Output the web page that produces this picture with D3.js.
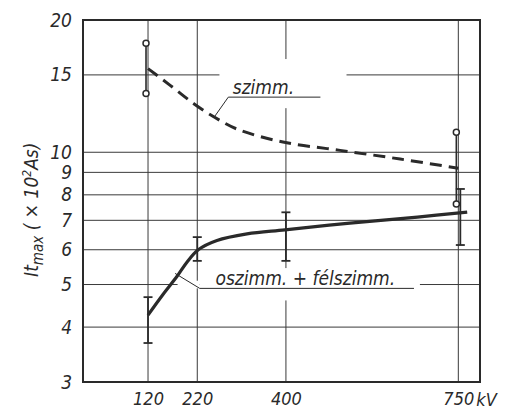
<!DOCTYPE html>
<html>
<head>
<meta charset="utf-8">
<script src="https://cdn.jsdelivr.net/npm/d3@7/dist/d3.min.js"></script>
<style>
  body { margin: 0; background: #fff; }
  text { font-family: "Liberation Sans Narrow", "DejaVu Sans Condensed", "Liberation Sans", sans-serif; font-style: italic; fill: #2a2a2a; }
</style>
</head>
<body>
<svg id="chart"></svg>
<script>
// voltage levels (kV) and y ticks
var voltages = [120, 220, 400, 750];
var yTicks = [3, 4, 5, 6, 7, 8, 9, 10, 15, 20];

// "szimm." curve (dashed)
var szimmKV = [120, 165, 213, 256, 300, 394, 510, 632, 750];
var szimmVal = [15.5, 14.2, 12.9, 12.0, 11.3, 10.55, 10.1, 9.65, 9.2];
// szimm. scatter ranges (open circles)
var szimmBarKV = [120, 750];
var szimmBarLow = [13.6, 7.63];
var szimmBarHigh = [17.7, 11.1];

// "oszimm. + félszimm." curve (solid)
var aszKV = [120, 150, 179, 199, 222, 260, 321, 398, 530, 667, 768];
var aszVal = [4.26, 4.74, 5.22, 5.62, 6.0, 6.3, 6.52, 6.66, 6.9, 7.12, 7.31];
// its ranges (I-bars)
var aszBarKV = [120, 220, 400, 750];
var aszBarLow = [3.68, 5.66, 5.66, 6.15];
var aszBarHigh = [4.68, 6.41, 7.3, 8.25];

var dimensions = {
    width: 510,
    height: 410,
    margins: { top: 20, right: 30, bottom: 28, left: 83 }
};
var ink = "#2a2a2a";

var svg = d3.select("#chart")
    .attr("width", dimensions.width)
    .attr("height", dimensions.height);

var xScale = d3.scaleLinear()
    .domain([-12, 794])
    .range([dimensions.margins.left, dimensions.width - dimensions.margins.right]);

var yScale = d3.scaleLog()
    .domain([3, 20])
    .range([dimensions.height - dimensions.margins.bottom, dimensions.margins.top]);

var x0 = xScale.range()[0], x1 = xScale.range()[1];
var yb = yScale.range()[0], yt = yScale.range()[1];

// grid
var grid = svg.append("g").attr("stroke", "#3a3a3a").attr("stroke-width", 1);
grid.selectAll("line.h")
    .data(yTicks.filter(d => d > 3 && d < 20))
    .enter().append("line")
    .attr("x1", x0).attr("x2", x1)
    .attr("y1", d => yScale(d)).attr("y2", d => yScale(d));
grid.selectAll("line.v")
    .data(voltages)
    .enter().append("line")
    .attr("x1", d => xScale(d)).attr("x2", d => xScale(d))
    .attr("y1", yt).attr("y2", yb);

// white knockouts behind the two labels
var knock = svg.append("g").attr("fill", "#fff");
knock.append("rect")
    .attr("x", xScale(265)).attr("y", yScale(16.3))
    .attr("width", xScale(523) - xScale(265)).attr("height", yScale(12.6) - yScale(16.3));
knock.append("rect")
    .attr("x", xScale(225)).attr("y", yScale(5.45))
    .attr("width", xScale(672) - xScale(225)).attr("height", yScale(4.6) - yScale(5.45));
knock.append("rect")
    .attr("x", xScale(180)).attr("y", yScale(5.1))
    .attr("width", xScale(225) - xScale(180)).attr("height", yScale(4.9) - yScale(5.1));

// frame
svg.append("rect")
    .attr("x", x0).attr("y", yt)
    .attr("width", x1 - x0).attr("height", yb - yt)
    .attr("fill", "none").attr("stroke", ink).attr("stroke-width", 2);

// y axis labels
svg.append("g")
    .attr("transform", "translate(" + x0 + ",0)")
    .call(d3.axisLeft(yScale).tickValues(yTicks).tickFormat(d => d).tickSize(0).tickPadding(11))
    .call(g => g.select(".domain").remove())
    .selectAll("text")
    .style("font-size", "19px");

// x axis labels
svg.append("g")
    .attr("transform", "translate(0," + yb + ")")
    .call(d3.axisBottom(xScale).tickValues(voltages).tickFormat(d => d).tickSize(0).tickPadding(10))
    .call(g => g.select(".domain").remove())
    .selectAll("text")
    .style("font-size", "18px");
svg.append("text")
    .attr("x", xScale(750) + 18).attr("y", yb + 24)
    .style("font-size", "18px")
    .text("kV");

// y axis title
var yTitle = svg.append("text")
    .attr("transform", "translate(38," + (yScale(7.4)) + ") rotate(-90)")
    .attr("text-anchor", "middle")
    .style("font-size", "19px");
yTitle.append("tspan").text("It");
yTitle.append("tspan").attr("dy", 5).style("font-size", "15px").text("max");
yTitle.append("tspan").attr("dy", -5).text(" ( × 10");
yTitle.append("tspan").attr("dy", -7).style("font-size", "12px").text("2");
yTitle.append("tspan").attr("dy", 7).text("As)");

var line = d3.line()
    .x(d => xScale(d[0]))
    .y(d => yScale(d[1]))
    .curve(d3.curveCatmullRom.alpha(0.5));

// szimm. ranges
var szBars = szimmBarKV.map((k, i) => ({ k: k, lo: szimmBarLow[i], hi: szimmBarHigh[i] }));
var szg = svg.append("g").attr("stroke", ink);
szg.selectAll("line")
    .data(szBars).enter().append("line")
    .attr("x1", d => xScale(d.k) - 2).attr("x2", d => xScale(d.k) - 2)
    .attr("y1", d => yScale(d.hi)).attr("y2", d => yScale(d.lo))
    .attr("stroke-width", 1.6);
szg.selectAll("circle")
    .data(szBars.flatMap(d => [{ k: d.k, v: d.lo }, { k: d.k, v: d.hi }]))
    .enter().append("circle")
    .attr("cx", d => xScale(d.k) - 2).attr("cy", d => yScale(d.v))
    .attr("r", 3).attr("fill", "#fff").attr("stroke-width", 1.5);

// oszimm. ranges
var aBars = aszBarKV.map((k, i) => ({ k: k, lo: aszBarLow[i], hi: aszBarHigh[i] }));
var ag = svg.append("g").attr("stroke", ink).attr("stroke-width", 1.8);
ag.selectAll("g")
    .data(aBars).enter().append("g")
    .attr("transform", d => "translate(" + (xScale(d.k) + (d.k === 750 ? 2 : 0)) + ",0)")
    .each(function (d) {
        var g = d3.select(this);
        g.append("line").attr("y1", yScale(d.hi)).attr("y2", yScale(d.lo));
        g.append("line").attr("x1", -4.5).attr("x2", 4.5).attr("y1", yScale(d.hi)).attr("y2", yScale(d.hi));
        g.append("line").attr("x1", -4.5).attr("x2", 4.5).attr("y1", yScale(d.lo)).attr("y2", yScale(d.lo));
    });

// curves
svg.append("path")
    .datum(szimmKV.map((k, i) => [k, szimmVal[i]]))
    .attr("d", line)
    .attr("fill", "none").attr("stroke", ink)
    .attr("stroke-width", 3).attr("stroke-dasharray", "12,7");
svg.append("path")
    .datum(aszKV.map((k, i) => [k, aszVal[i]]))
    .attr("d", line)
    .attr("fill", "none").attr("stroke", ink)
    .attr("stroke-width", 3.2);

// labels with leaders
var lab = svg.append("g").attr("stroke", ink).attr("stroke-width", 1).attr("fill", "none");
lab.append("path").attr("d", d3.line()([
    [xScale(255), yScale(12.05)], [xScale(283), yScale(13.35)], [xScale(470), yScale(13.35)]
]));
svg.append("text")
    .attr("x", xScale(292)).attr("y", yScale(13.55))
    .style("font-size", "19px")
    .text("szimm.");

lab.append("path").attr("d", d3.line()([
    [xScale(175), yScale(5.3)], [xScale(225), yScale(4.9)], [xScale(660), yScale(4.9)]
]));
svg.append("text")
    .attr("x", xScale(257)).attr("y", yScale(4.98))
    .style("font-size", "19px")
    .text("oszimm. + félszimm.");
</script>
</body>
</html>
